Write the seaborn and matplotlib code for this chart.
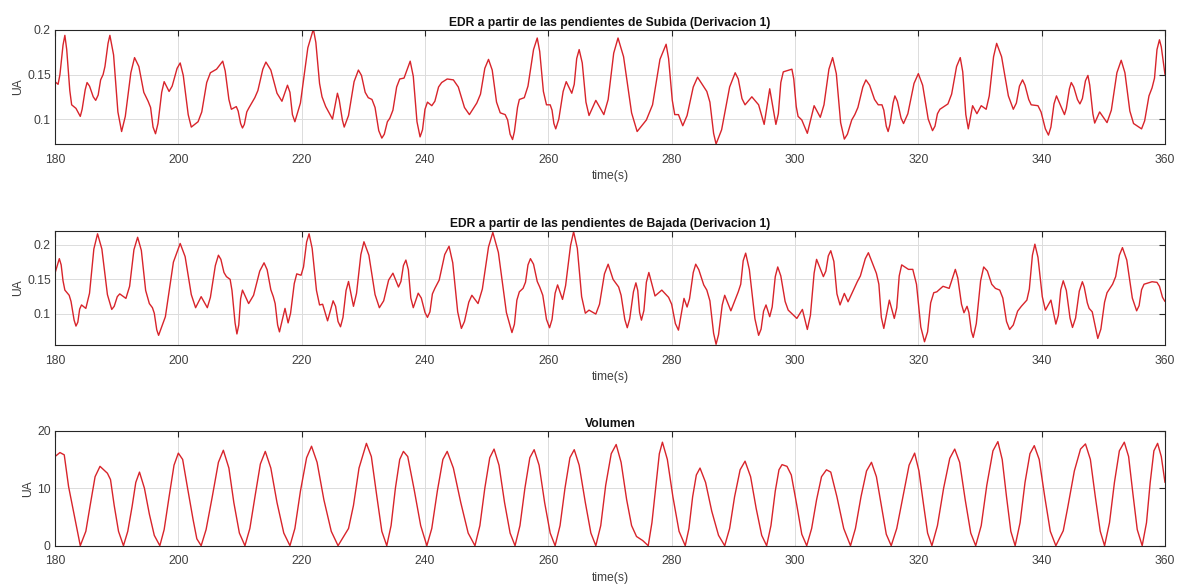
import matplotlib
matplotlib.use("Agg")
import matplotlib.pyplot as plt
import seaborn as sns
import pandas as pd

# ---- data ----
# EDR from rising slopes: main turning points
sub_t = [180.0, 180.5, 181.6, 182.7, 183.4, 184.1, 185.2, 186.6, 187.8, 188.9, 190.8, 192.9, 195.1, 196.3,
         197.7, 198.5, 200.3, 202.1, 203.2, 205.2, 206.2, 207.2, 208.6, 209.4, 210.4, 211.4, 212.4, 214.2,
         216.8, 217.7, 218.9, 221.9, 223.3, 223.9, 225.0, 225.8, 226.9, 229.2, 230.8, 231.4, 233.0, 234.3,
         235.9, 236.6, 237.6, 239.2, 240.4, 241.1, 242.7, 244.6, 247.2, 248.4, 250.3, 252.2, 253.0, 254.2,
         255.3, 256.1, 258.2, 259.7, 260.3, 261.2, 262.9, 263.8, 265.0, 266.6, 267.7, 269.0, 271.3, 274.4,
         275.9, 279.1, 280.5, 281.1, 281.8, 284.2, 285.7, 287.2, 290.3, 291.9, 293.0, 294.1, 295.0, 295.9,
         296.9, 298.1, 299.5, 300.5, 301.1, 302.0, 303.1, 304.1, 306.1, 308.0, 309.7, 311.5, 313.5, 314.1,
         315.1, 316.2, 317.6, 320.0, 322.3, 323.5, 324.8, 326.8, 328.1, 328.8, 329.5, 330.2, 331.0, 332.7,
         335.4, 336.9, 338.3, 339.4, 341.1, 342.4, 343.7, 344.8, 346.2, 347.5, 348.6, 349.4, 350.6, 352.9,
         354.9, 356.2, 357.9, 359.1, 360.0]
sub_v = [0.142, 0.139, 0.194, 0.116, 0.112, 0.103, 0.141, 0.121, 0.150, 0.194, 0.086, 0.169, 0.120, 0.0835,
         0.142, 0.131, 0.163, 0.091, 0.097, 0.152, 0.156, 0.165, 0.111, 0.114, 0.090, 0.112, 0.124, 0.164,
         0.120, 0.138, 0.097, 0.201, 0.125, 0.114, 0.100, 0.129, 0.091, 0.155, 0.124, 0.122, 0.0786, 0.101,
         0.145, 0.146, 0.165, 0.080, 0.119, 0.115, 0.141, 0.144, 0.105, 0.118, 0.167, 0.107, 0.105, 0.077,
         0.122, 0.124, 0.191, 0.116, 0.116, 0.089, 0.142, 0.129, 0.178, 0.104, 0.121, 0.105, 0.191, 0.086,
         0.099, 0.184, 0.105, 0.105, 0.0925, 0.147, 0.131, 0.072, 0.152, 0.116, 0.125, 0.116, 0.094, 0.134,
         0.094, 0.153, 0.156, 0.103, 0.099, 0.084, 0.115, 0.102, 0.169, 0.0775, 0.105, 0.144, 0.116, 0.116,
         0.086, 0.126, 0.095, 0.151, 0.087, 0.111, 0.117, 0.169, 0.089, 0.115, 0.106, 0.115, 0.111, 0.185,
         0.111, 0.144, 0.116, 0.115, 0.082, 0.126, 0.105, 0.141, 0.117, 0.149, 0.0955, 0.108, 0.096, 0.166,
         0.095, 0.089, 0.135, 0.189, 0.150]
# EDR from rising slopes: points read on the flanks of the curve
sub_flank_t = [180.8, 181.3, 181.9, 182.4, 184.4, 184.9, 185.6, 186.2, 187.0, 187.4, 188.1, 188.6, 189.5, 190.2,
               191.4, 192.3, 193.6, 194.4, 195.5, 195.9, 196.7, 197.3, 199.0, 199.8, 200.8, 201.6, 203.8, 204.6,
               207.6, 208.2, 209.7, 210.1, 210.7, 211.1, 212.9, 213.7, 215.0, 216.0, 218.1, 218.5, 219.8, 221.0,
               222.3, 222.9, 226.1, 226.6, 227.6, 228.5, 229.7, 230.3, 231.9, 232.5, 233.4, 233.9, 234.8, 235.4,
               238.1, 238.7, 239.6, 240.0, 241.6, 242.2, 243.6, 245.4, 246.4, 249.0, 249.7, 250.9, 251.6, 253.4,
               253.8, 254.5, 255.0, 256.7, 257.6, 258.6, 259.2, 260.6, 260.9, 261.7, 262.4, 264.2, 264.6, 265.5,
               266.1, 269.7, 270.6, 272.2, 273.5, 276.9, 278.1, 279.5, 280.1, 282.5, 283.5, 286.2, 286.8, 288.1,
               289.4, 290.8, 291.4, 297.3, 297.7, 299.8, 300.2, 304.7, 305.5, 306.7, 307.4, 308.5, 309.2, 310.2,
               311.0, 312.1, 312.9, 314.4, 314.8, 315.4, 315.9, 316.6, 317.2, 318.3, 319.3, 320.7, 321.6, 322.7,
               323.1, 325.4, 326.2, 327.2, 327.7, 331.5, 332.2, 333.5, 334.6, 335.9, 336.4, 337.3, 337.9, 339.9,
               340.6, 341.5, 342.0, 344.0, 344.5, 345.2, 345.8, 346.6, 347.1, 347.8, 348.3, 351.3, 352.2, 353.5,
               354.3, 356.7, 357.4, 358.3, 358.7, 359.4]
sub_flank_v = [0.150, 0.183, 0.178, 0.132, 0.111, 0.133, 0.137, 0.125, 0.127, 0.144, 0.159, 0.185, 0.172, 0.108,
               0.103, 0.152, 0.159, 0.130, 0.113, 0.091, 0.095, 0.130, 0.137, 0.157, 0.149, 0.105, 0.108, 0.141,
               0.154, 0.122, 0.109, 0.095, 0.094, 0.108, 0.132, 0.156, 0.155, 0.129, 0.130, 0.105, 0.118, 0.180,
               0.186, 0.140, 0.121, 0.099, 0.104, 0.142, 0.149, 0.130, 0.113, 0.087, 0.083, 0.097, 0.110, 0.136,
               0.148, 0.097, 0.088, 0.111, 0.120, 0.136, 0.145, 0.136, 0.113, 0.128, 0.157, 0.155, 0.119, 0.099,
               0.083, 0.086, 0.113, 0.137, 0.178, 0.176, 0.131, 0.110, 0.095, 0.100, 0.131, 0.139, 0.168, 0.163,
               0.119, 0.122, 0.174, 0.170, 0.107, 0.116, 0.167, 0.168, 0.121, 0.104, 0.136, 0.119, 0.084, 0.088,
               0.136, 0.145, 0.123, 0.106, 0.141, 0.145, 0.114, 0.116, 0.156, 0.151, 0.096, 0.083, 0.099, 0.113,
               0.136, 0.138, 0.122, 0.110, 0.092, 0.094, 0.118, 0.120, 0.101, 0.106, 0.140, 0.138, 0.100, 0.092,
               0.106, 0.128, 0.159, 0.153, 0.105, 0.126, 0.170, 0.170, 0.126, 0.118, 0.137, 0.138, 0.122, 0.108,
               0.089, 0.091, 0.117, 0.112, 0.134, 0.136, 0.122, 0.123, 0.143, 0.138, 0.106, 0.110, 0.152, 0.152,
               0.109, 0.098, 0.126, 0.146, 0.178, 0.181]

# EDR from falling slopes: main turning points
baj_t = [180.0, 180.7, 181.6, 182.3, 183.4, 184.3, 185.0, 186.9, 189.2, 190.5, 191.5, 193.4, 195.3, 195.8,
         196.8, 200.3, 202.8, 203.7, 204.7, 206.5, 207.8, 208.4, 209.5, 210.4, 211.4, 213.9, 215.4, 216.4,
         217.3, 217.8, 219.2, 219.9, 221.2, 222.9, 223.4, 224.2, 225.1, 226.3, 227.6, 228.4, 230.1, 232.6,
         234.8, 235.7, 236.9, 238.1, 238.9, 240.4, 241.6, 243.9, 245.9, 247.6, 248.6, 251.0, 254.1, 255.3,
         255.9, 257.1, 258.6, 260.2, 261.5, 262.3, 264.1, 266.0, 266.6, 267.7, 269.7, 270.5, 271.4, 272.8,
         274.2, 275.1, 276.3, 277.3, 278.4, 279.5, 281.1, 282.0, 282.5, 283.9, 285.7, 287.2, 288.6, 289.6,
         290.8, 292.0, 294.1, 295.3, 295.9, 297.2, 298.9, 300.3, 301.2, 302.0, 303.5, 304.6, 305.8, 307.3,
         308.0, 308.6, 310.1, 311.9, 313.2, 314.4, 315.3, 316.1, 317.3, 318.4, 319.1, 321.0, 322.5, 323.0,
         324.0, 325.0, 326.0, 327.4, 327.9, 328.9, 330.6, 332.5, 333.2, 334.8, 336.7, 337.6, 338.9, 340.6,
         341.5, 342.3, 343.5, 345.0, 346.6, 347.7, 348.2, 349.1, 350.6, 351.5, 353.1, 355.4, 356.6, 357.9,
         358.7, 360.0]
baj_v = [0.159, 0.180, 0.1345, 0.127, 0.0824, 0.113, 0.108, 0.216, 0.1065, 0.129, 0.1225, 0.211, 0.115, 0.109,
         0.069, 0.202, 0.109, 0.125, 0.109, 0.185, 0.154, 0.150, 0.071, 0.1345, 0.115, 0.174, 0.125, 0.074,
         0.108, 0.087, 0.158, 0.156, 0.216, 0.113, 0.114, 0.090, 0.119, 0.0814, 0.147, 0.111, 0.2045, 0.109,
         0.159, 0.139, 0.178, 0.109, 0.130, 0.095, 0.137, 0.198, 0.079, 0.127, 0.115, 0.218, 0.073, 0.132,
         0.137, 0.180, 0.139, 0.080, 0.142, 0.121, 0.219, 0.101, 0.1055, 0.0998, 0.172, 0.150, 0.139, 0.080,
         0.145, 0.091, 0.160, 0.126, 0.1345, 0.124, 0.0765, 0.1225, 0.110, 0.172, 0.1345, 0.056, 0.127, 0.1045,
         0.132, 0.188, 0.069, 0.113, 0.096, 0.168, 0.1055, 0.0935, 0.1065, 0.0775, 0.179, 0.154, 0.1915, 0.113,
         0.1297, 0.1176, 0.1466, 0.1886, 0.1587, 0.079, 0.120, 0.0935, 0.171, 0.1645, 0.1645, 0.0597, 0.1307, 0.132,
         0.140, 0.137, 0.1645, 0.1017, 0.111, 0.066, 0.168, 0.137, 0.1345, 0.0775, 0.111, 0.120, 0.201, 0.1055,
         0.120, 0.0853, 0.148, 0.0804, 0.1466, 0.108, 0.103, 0.0645, 0.1307, 0.143, 0.196, 0.1045, 0.143, 0.1466,
         0.1457, 0.118]
# EDR from falling slopes: points read on the flanks of the curve
baj_flank_t = [181.0, 181.3, 182.6, 183.1, 183.7, 184.0, 185.6, 186.3, 187.6, 188.5, 189.6, 190.1, 192.1, 192.8,
               194.0, 194.7, 196.1, 196.5, 197.9, 199.2, 201.1, 202.1, 205.2, 206.0, 206.9, 207.4, 208.7, 209.2,
               209.8, 210.1, 212.2, 213.2, 214.4, 215.0, 215.7, 216.1, 218.2, 218.8, 220.3, 220.8, 221.7, 222.4,
               225.5, 225.9, 226.7, 227.2, 228.9, 229.6, 230.9, 231.9, 233.3, 234.1, 236.1, 236.5, 237.3, 237.7,
               239.4, 240.0, 240.8, 241.2, 242.3, 243.2, 244.5, 245.3, 246.4, 247.1, 249.3, 250.3, 251.9, 253.2,
               254.5, 254.9, 256.3, 256.7, 257.6, 258.2, 259.1, 259.7, 260.6, 261.1, 262.8, 263.6, 264.7, 265.4,
               268.3, 269.1, 271.8, 272.4, 273.2, 273.8, 274.5, 274.8, 275.5, 275.9, 280.0, 280.6, 282.9, 283.5,
               284.4, 285.2, 286.2, 286.8, 287.6, 288.2, 291.2, 291.6, 292.6, 293.5, 294.5, 294.9, 296.3, 296.8,
               297.7, 298.4, 302.5, 303.1, 305.0, 305.4, 306.3, 306.8, 310.6, 311.4, 313.6, 314.0, 316.5, 316.9,
               319.7, 320.4, 321.5, 322.0, 326.4, 327.0, 328.2, 328.6, 329.4, 330.1, 331.2, 331.9, 333.7, 334.3,
               335.4, 336.1, 338.0, 338.5, 339.4, 340.1, 342.7, 343.1, 344.0, 344.6, 345.5, 346.1, 346.9, 347.4,
               349.6, 350.2, 352.0, 352.6, 353.8, 354.7, 355.8, 356.2, 359.1, 359.6]
baj_flank_v = [0.171, 0.148, 0.118, 0.091, 0.088, 0.107, 0.130, 0.194, 0.194, 0.128, 0.111, 0.125, 0.140, 0.193,
               0.192, 0.134, 0.101, 0.077, 0.096, 0.175, 0.183, 0.128, 0.124, 0.170, 0.179, 0.160, 0.134, 0.087,
               0.084, 0.122, 0.127, 0.162, 0.164, 0.135, 0.115, 0.084, 0.101, 0.144, 0.168, 0.204, 0.195, 0.134,
               0.111, 0.089, 0.095, 0.134, 0.130, 0.186, 0.185, 0.128, 0.119, 0.149, 0.147, 0.170, 0.164, 0.123,
               0.123, 0.102, 0.103, 0.129, 0.149, 0.186, 0.174, 0.103, 0.089, 0.117, 0.136, 0.197, 0.189, 0.102,
               0.085, 0.120, 0.146, 0.171, 0.172, 0.147, 0.127, 0.092, 0.092, 0.130, 0.141, 0.199, 0.195, 0.125,
               0.114, 0.158, 0.127, 0.092, 0.093, 0.132, 0.134, 0.102, 0.105, 0.146, 0.114, 0.086, 0.122, 0.160,
               0.164, 0.142, 0.119, 0.072, 0.070, 0.113, 0.143, 0.177, 0.164, 0.093, 0.078, 0.104, 0.110, 0.154,
               0.155, 0.118, 0.098, 0.159, 0.162, 0.184, 0.176, 0.129, 0.155, 0.180, 0.143, 0.095, 0.109, 0.155,
               0.143, 0.081, 0.074, 0.116, 0.152, 0.114, 0.102, 0.075, 0.086, 0.148, 0.162, 0.143, 0.123, 0.089,
               0.084, 0.104, 0.136, 0.185, 0.182, 0.125, 0.098, 0.135, 0.134, 0.094, 0.094, 0.133, 0.139, 0.116,
               0.078, 0.117, 0.154, 0.185, 0.178, 0.123, 0.112, 0.135, 0.140, 0.124]

# Volume
vol_t = [180.0, 180.8, 181.5, 182.2, 184.1, 185.0, 185.7, 186.5, 187.3, 188.5, 189.0, 189.6, 190.3, 191.1,
         191.8, 192.5, 193.1, 193.7, 194.5, 195.3, 196.1, 197.0, 197.7, 198.5, 199.3, 200.0, 200.7, 201.5,
         202.4, 203.0, 203.7, 204.5, 205.5, 206.5, 207.3, 208.2, 209.0, 209.9, 210.8, 211.6, 212.5, 213.3,
         214.1, 215.0, 216.0, 217.1, 218.1, 218.9, 219.8, 220.8, 221.6, 222.5, 223.6, 224.8, 225.9, 226.8,
         227.6, 228.4, 229.3, 230.5, 231.3, 232.2, 233.0, 233.8, 234.5, 235.2, 235.9, 236.5, 237.2, 238.2,
         239.3, 240.3, 241.1, 242.0, 242.9, 243.6, 244.6, 245.8, 247.0, 248.1, 248.9, 249.7, 250.5, 251.2,
         252.0, 252.9, 253.8, 254.6, 255.4, 256.2, 257.0, 257.7, 258.5, 259.4, 260.3, 261.1, 261.9, 262.7,
         263.5, 264.2, 265.0, 266.0, 266.9, 267.7, 268.5, 269.3, 270.2, 271.0, 271.8, 272.7, 273.5, 274.3,
         275.3, 276.2, 276.8, 277.5, 278.0, 278.5, 279.3, 280.2, 281.2, 282.2, 282.8, 283.4, 284.0, 284.6,
         285.5, 286.5, 287.6, 288.6, 289.4, 290.2, 291.1, 291.9, 292.8, 293.7, 294.6, 295.4, 296.1, 296.8,
         297.4, 297.9, 298.7, 299.4, 300.3, 301.1, 301.9, 302.7, 303.5, 304.3, 305.1, 305.8, 306.8, 307.9,
         309.0, 309.8, 310.7, 311.6, 312.4, 313.2, 314.0, 314.8, 315.6, 316.5, 317.5, 318.5, 319.4, 320.1,
         320.8, 321.5, 322.2, 323.1, 324.1, 325.1, 325.9, 326.7, 327.6, 328.5, 329.3, 330.2, 331.1, 332.1,
         332.9, 333.6, 334.3, 335.0, 335.7, 336.5, 337.3, 338.1, 338.8, 339.6, 340.5, 341.4, 342.3, 343.0,
         343.5, 344.2, 345.3, 346.3, 347.1, 347.9, 348.7, 349.5, 350.2, 351.0, 351.8, 352.6, 353.4, 354.1,
         354.8, 355.5, 356.3, 357.0, 357.6, 358.2, 358.8, 359.4, 360.0]
vol_v = [15.5, 16.2, 15.8, 10.3, 0.0, 2.5, 7.0, 12.0, 13.8, 12.6, 11.5, 7.0, 2.5, 0.0,
         2.5, 6.8, 11.0, 12.8, 10.0, 5.5, 1.8, 0.0, 2.8, 8.5, 14.0, 16.1, 15.0, 10.0,
         4.5, 1.2, 0.0, 2.8, 8.5, 14.5, 16.6, 13.5, 7.5, 2.2, 0.0, 3.0, 9.0, 14.2,
         16.4, 13.5, 7.5, 2.2, 0.0, 3.0, 9.5, 15.3, 17.3, 14.5, 8.0, 2.5, 0.0, 1.6,
         3.0, 7.0, 13.5, 17.8, 15.5, 8.5, 2.5, 0.0, 3.5, 10.0, 15.0, 16.4, 15.5, 10.0,
         3.5, 0.0, 3.0, 9.5, 15.0, 16.4, 13.5, 7.5, 2.2, 0.0, 3.5, 10.0, 15.3, 16.8,
         14.0, 7.5, 2.2, 0.0, 3.5, 10.0, 15.3, 16.7, 14.0, 7.5, 2.2, 0.0, 3.5, 10.0,
         15.3, 16.7, 14.0, 7.5, 2.2, 0.0, 3.5, 10.5, 16.0, 17.6, 14.5, 8.0, 3.5, 1.6,
         0.9, 0.0, 4.0, 11.0, 16.0, 18.0, 15.0, 8.5, 2.5, 0.0, 3.0, 8.5, 12.3, 13.5,
         11.0, 6.0, 1.8, 0.0, 3.0, 8.5, 13.2, 14.7, 12.0, 6.5, 1.8, 0.0, 3.5, 9.5,
         13.2, 14.1, 13.8, 12.3, 7.0, 2.0, 0.0, 3.0, 8.0, 12.0, 13.2, 12.8, 8.5, 3.0,
         0.0, 3.0, 8.5, 13.0, 14.5, 12.0, 7.0, 2.0, 0.0, 3.0, 8.5, 14.0, 16.1, 13.0,
         7.5, 2.2, 0.0, 3.5, 10.0, 15.2, 16.8, 14.5, 8.0, 2.2, 0.0, 3.5, 10.5, 16.5,
         18.1, 15.0, 8.5, 2.5, 0.0, 4.0, 11.0, 16.0, 17.4, 15.0, 8.5, 2.5, 0.0, 1.5,
         2.6, 6.5, 13.0, 16.8, 17.7, 15.0, 8.5, 2.5, 0.0, 4.0, 11.0, 16.5, 18.0, 15.5,
         9.0, 2.8, 0.0, 4.0, 11.0, 16.5, 17.8, 15.5, 11.0]

titles = ["EDR a partir de las pendientes de Subida (Derivacion 1)",
          "EDR a partir de las pendientes de Bajada (Derivacion 1)",
          "Volumen"]
xticks = [180, 200, 220, 240, 260, 280, 300, 320, 340, 360]
yticks_edr = [0.1, 0.15, 0.2]
ytick_labels_edr = ["0.1", "0.15", "0.2"]
yticks_vol = [0, 10, 20]
ytick_labels_vol = ["0", "10", "20"]

# ---- style ----
sns.set_style("white")
plt.rcParams['font.family'] = ['Liberation Sans', 'DejaVu Sans']
LINE = "#d8242b"
DARK = "#262626"
TICKTXT = "#404040"

fig = plt.figure(figsize=(11.78, 5.85), dpi=100)
boxes = [
    [55 / 1178, 1 - 144 / 585, 1110 / 1178, 114 / 585],
    [55 / 1178, 1 - 345 / 585, 1110 / 1178, 114.3 / 585],
    [55 / 1178, 1 - 545.7 / 585, 1110 / 1178, 115 / 585],
]
frames = [
    pd.DataFrame({"time": sub_t + sub_flank_t, "value": sub_v + sub_flank_v}),
    pd.DataFrame({"time": baj_t + baj_flank_t, "value": baj_v + baj_flank_v}),
    pd.DataFrame({"time": vol_t, "value": vol_v}),
]
limits = [(0.072, 0.2), (0.055, 0.2205), (0, 20)]
yticks = [(yticks_edr, ytick_labels_edr), (yticks_edr, ytick_labels_edr), (yticks_vol, ytick_labels_vol)]

for box, df, ylim, (yt, ytl), title in zip(boxes, frames, limits, yticks, titles):
    ax = fig.add_axes(box)
    df = df.sort_values("time").reset_index(drop=True)
    sns.lineplot(data=df, x="time", y="value", ax=ax, color=LINE, linewidth=1.0, sort=False)
    ax.set_xlim(180, 360)
    ax.set_ylim(*ylim)
    ax.set_xticks(xticks)
    ax.set_xticklabels([str(x) for x in xticks])
    ax.set_yticks(yt)
    ax.set_yticklabels(ytl)
    ax.grid(True, color="#dcdcdc", linewidth=0.7)
    ax.set_axisbelow(True)
    ax.tick_params(direction="in", length=4, width=0.8, colors=DARK, labelcolor=TICKTXT,
                   labelsize=8.7, top=True, right=True)
    ax.tick_params(axis="x", pad=7)
    ax.tick_params(axis="y", pad=3)
    for s in ax.spines.values():
        s.set_color(DARK)
        s.set_linewidth(0.8)
    ax.set_title(title, fontsize=8.7, fontweight="bold", color="#111111", pad=3)
    ax.set_xlabel("time(s)", fontsize=8.7, color=TICKTXT, labelpad=3)
    ax.set_ylabel("UA", fontsize=8.7, color=TICKTXT, labelpad=2)

fig.savefig("out.png", dpi=100, facecolor="white")
